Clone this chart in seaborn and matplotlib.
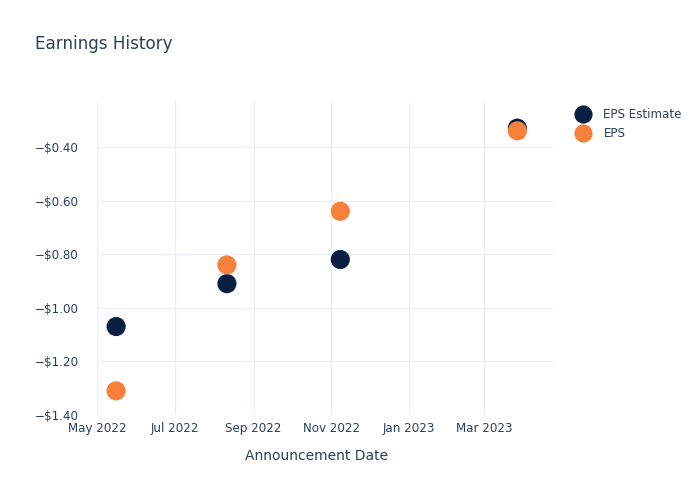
import matplotlib
matplotlib.use("Agg")
import matplotlib.pyplot as plt
import seaborn as sns
import pandas as pd

dates = ["2022-05-16", "2022-08-11", "2022-11-08", "2023-03-27"]
eps_estimate = [-1.07, -0.91, -0.82, -0.33]
eps_actual = [-1.31, -0.84, -0.64, -0.34]
series_names = ["EPS Estimate", "EPS"]
colors = ["#0b1f42", "#f7813a"]
y_ticks = [-0.4, -0.6, -0.8, -1.0, -1.2, -1.4]
x_ticks = ["2022-05-01", "2022-07-01", "2022-09-01", "2022-11-01", "2023-01-01", "2023-03-01"]
x_tick_labels = ["May 2022", "Jul 2022", "Sep 2022", "Nov 2022", "Jan 2023", "Mar 2023"]

df = pd.DataFrame({
    "date": pd.to_datetime(dates * 2),
    "value": eps_estimate + eps_actual,
    "series": [series_names[0]] * len(dates) + [series_names[1]] * len(dates),
})

sns.set_style("white")
plt.rcParams["font.family"] = ["DejaVu Sans"]
text_color = "#2a3f5f"
grid_color = "#ebf0f8"

fig = plt.figure(figsize=(7, 5), dpi=100)
ax = fig.add_axes([97 / 700, 1 - 415 / 500, (553 - 97) / 700, (415 - 100) / 500])

sns.scatterplot(data=df, x="date", y="value", hue="series", palette=colors,
                hue_order=series_names, s=190, edgecolor="none", ax=ax, zorder=3)

ax.set_xlim(pd.Timestamp("2022-05-01"), pd.Timestamp("2023-04-24"))
ax.set_ylim(-1.40, -0.225)
ax.set_xticks(pd.to_datetime(x_ticks))
ax.set_xticklabels(x_tick_labels)
ax.set_yticks(y_ticks)
ax.set_yticklabels([f"\u2212${abs(v):.2f}" for v in y_ticks])
ax.grid(True, color=grid_color, linewidth=1)
ax.set_axisbelow(True)
for s in ax.spines.values():
    s.set_visible(False)
ax.tick_params(axis="both", length=0, labelsize=8.6, colors=text_color)
ax.tick_params(axis="y", pad=13)
ax.tick_params(axis="x", pad=5)
ax.set_xlabel("Announcement Date", fontsize=10, color=text_color, va="center")
ax.xaxis.set_label_coords((317 - 97) / 456, -41 / 315)
ax.set_ylabel("")

handles, labels = ax.get_legend_handles_labels()
leg = ax.legend(handles, labels, loc="upper left", bbox_to_anchor=(1.022, 1.0),
                frameon=False, fontsize=8.6, handletextpad=0.68, labelspacing=0.5,
                markerscale=0.95, borderaxespad=0.3)
for t in leg.get_texts():
    t.set_color(text_color)

fig.text(35 / 700, 1 - 44 / 500, "Earnings History", fontsize=12.1, color=text_color,
         va="center", ha="left")

fig.savefig("out.png", dpi=100)
